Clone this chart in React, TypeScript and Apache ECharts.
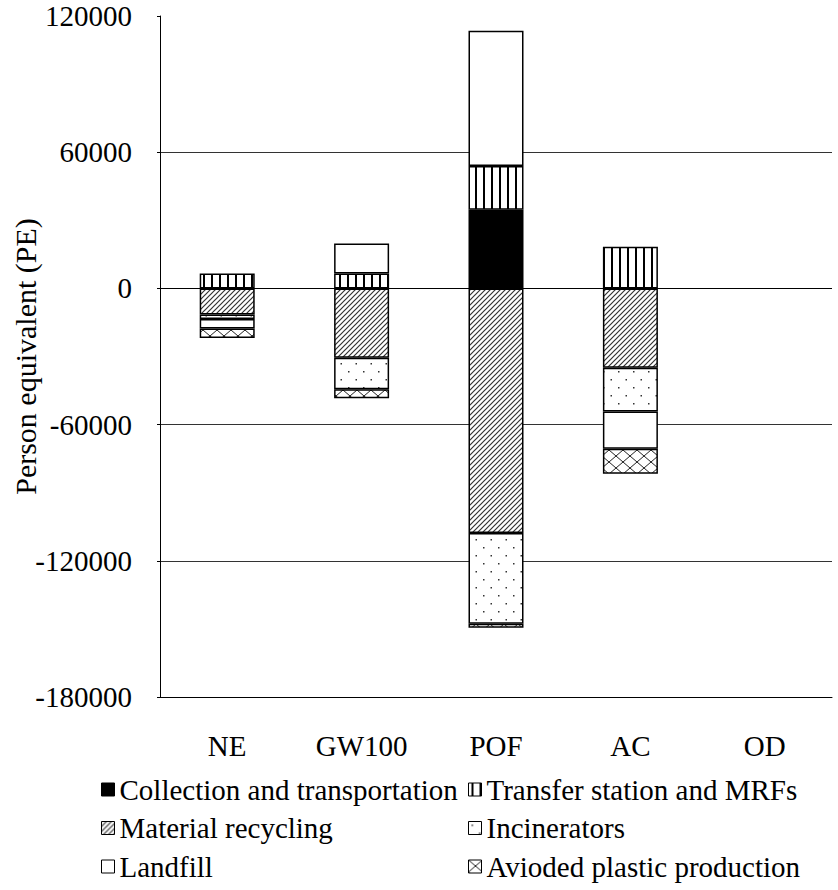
import React, { useEffect, useRef } from 'react';
import * as echarts from 'echarts';

const categories = ['NE', 'GW100', 'POF', 'AC', 'OD'];
const seriesNames = [
  'Collection and transportation',
  'Transfer station and MRFs',
  'Material recycling',
  'Incinerators',
  'Landfill',
  'Avioded plastic production',
];
const collection = [0, 0, 34700, 0, 0];
const transfer = [6600, 6600, 19200, 18300, 0];
const recycling = [-11500, -30500, -107700, -35000, 0];
const incinerators = [-2000, -13900, -40000, -19200, 0];
const landfill = [-4200, 13200, 59600, -16400, 0];
const avoided = [-4100, -4000, -1800, -11000, 0];
const yMin = -180000;
const yMax = 120000;
const yInterval = 60000;

const FONT = 'Liberation Serif';
const FS = 29;

function tile(w: number, h: number, draw: (ctx: CanvasRenderingContext2D) => void) {
  const c = document.createElement('canvas');
  c.width = w;
  c.height = h;
  const ctx = c.getContext('2d')!;
  ctx.fillStyle = '#fff';
  ctx.fillRect(0, 0, w, h);
  draw(ctx);
  return { image: c, repeat: 'repeat', imageWidth: w, imageHeight: h } as any;
}

export default function App() {
  const ref = useRef<HTMLDivElement>(null);
  useEffect(() => {
    if (!ref.current) return;
    const chart = echarts.init(ref.current, null, { renderer: 'svg' });

    const vStripe = tile(8, 8, (ctx) => {
      ctx.fillStyle = '#000';
      ctx.fillRect(3, 0, 2, 8);
    });
    const diag = tile(5, 5, (ctx) => {
      ctx.strokeStyle = '#333';
      ctx.lineWidth = 1.2;
      ctx.beginPath();
      ctx.moveTo(-1, 6);
      ctx.lineTo(6, -1);
      ctx.moveTo(-1, 1);
      ctx.lineTo(1, -1);
      ctx.moveTo(4, 6);
      ctx.lineTo(6, 4);
      ctx.stroke();
    });
    const dots = tile(15, 16, (ctx) => {
      ctx.fillStyle = '#333';
      ctx.fillRect(3, 3, 1.5, 1.5);
      ctx.fillRect(10.5, 11, 1.5, 1.5);
    });
    const cross = tile(14, 12, (ctx) => {
      ctx.strokeStyle = '#222';
      ctx.lineWidth = 1;
      ctx.beginPath();
      ctx.moveTo(0, 0);
      ctx.lineTo(14, 12);
      ctx.moveTo(0, 12);
      ctx.lineTo(14, 0);
      ctx.stroke();
    });

    const fills: any[] = ['#000', vStripe, diag, dots, '#fff', cross];
    const values = [collection, transfer, recycling, incinerators, landfill, avoided];

    const series: any[] = seriesNames.map((name, i) => ({
      name,
      type: 'bar',
      stack: 'total',
      barWidth: 55,
      data: values[i].map((v) => (v === 0 ? '-' : v)),
      itemStyle: { color: fills[i], borderColor: '#000', borderWidth: 1.5 },
      emphasis: { disabled: true },
    }));
    series[0].markLine = {
      silent: true,
      symbol: 'none',
      label: { show: false },
      lineStyle: { color: '#000', width: 1, type: 'solid' },
      data: [{ yAxis: 0 }],
    };

    const legendBase = {
      orient: 'vertical',
      top: 775,
      itemWidth: 13,
      itemHeight: 13,
      itemGap: 9.5,
      padding: 0,
      icon: 'rect',
      itemStyle: { borderColor: '#000', borderWidth: 1 },
      textStyle: { fontFamily: FONT, fontSize: FS, color: '#000' },
      selectedMode: false,
    };

    chart.setOption({
      animation: false,
      textStyle: { fontFamily: FONT },
      grid: {
        left: 160,
        right: 6,
        top: 16,
        bottom: 193,
        containLabel: false,
        outerBoundsMode: 'none',
      },
      legend: [
        { ...legendBase, left: 101, data: [seriesNames[0], seriesNames[2], seriesNames[4]] },
        { ...legendBase, left: 468, data: [seriesNames[1], seriesNames[3], seriesNames[5]] },
      ],
      xAxis: {
        type: 'category',
        data: categories,
        axisLine: { onZero: false, lineStyle: { color: '#000', width: 1 } },
        axisTick: { show: false },
        axisLabel: { margin: 34, fontFamily: FONT, fontSize: FS, color: '#000' },
      },
      yAxis: {
        type: 'value',
        min: yMin,
        max: yMax,
        interval: yInterval,
        name: 'Person equivalent (PE)',
        nameLocation: 'middle',
        nameGap: 120,
        nameMoveOverlap: false,
        nameTextStyle: { fontFamily: FONT, fontSize: 30, color: '#000' },
        axisLine: { show: true, lineStyle: { color: '#000', width: 1 } },
        axisTick: { show: true, length: 3, lineStyle: { color: '#000' } },
        axisLabel: {
          margin: 28,
          fontFamily: FONT,
          fontSize: FS,
          color: '#000',
          formatter: (v: number) => String(v),
        },
        splitLine: { show: true, showMaxLine: false, lineStyle: { color: '#333', width: 1 } },
      },
      series,
    });
    return () => chart.dispose();
  }, []);
  return <div ref={ref} style={{ width: 838, height: 890, position: 'absolute', left: 0, top: 0 }} />;
}
